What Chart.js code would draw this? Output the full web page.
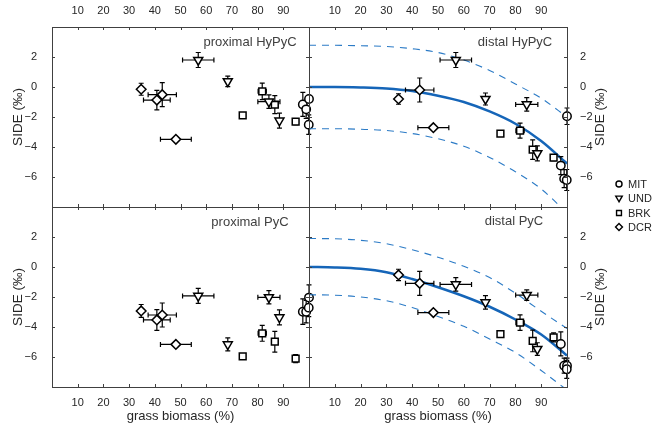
<!DOCTYPE html>
<html>
<head>
<meta charset="utf-8">
<script src="https://cdn.jsdelivr.net/npm/chart.js@4.4.1/dist/chart.umd.min.js"></script>
<style>
html, body { margin: 0; padding: 0; background: #fff; overflow: hidden; }
#wrap { position: relative; width: 653px; height: 423px; }
#wrap canvas { position: absolute; left: 0; top: 0; }
</style>
</head>
<body>
<div id="wrap">
  <canvas id="proxHy" width="653" height="423"></canvas>
  <canvas id="distHy" width="653" height="423"></canvas>
  <canvas id="proxPy" width="653" height="423"></canvas>
  <canvas id="distPy" width="653" height="423"></canvas>
</div>
<script>
// grass biomass (%) per site, with horizontal error
const mitX = [97.6, 98.9, 100, 99.9]
const undX = [56.9, 68.4, 84.4, 88.5]
const brkX = [74.2, 81.8, 86.7, 94.8]
const dcrX = [34.7, 40.8, 42.9, 48.2]
const mitXErr = [0, 0, 0, 0]
const undXErr = [6.1, 0, 4.3, 0]
const brkXErr = [0, 1.6, 0, 0]
const dcrXErr = [0.8, 5.2, 5.5, 6.0]

// SIDE (permil) - proximal HyPyC
const mitProxHy = [-1.16, -1.49, -0.8, -2.51]
const undProxHy = [1.8, 0.38, -0.98, -2.24]
const brkProxHy = [-1.89, -0.29, -1.18, -2.31]
const dcrProxHy = [-0.15, -0.87, -0.51, -3.49]
const mitProxHyErr = [0.8, 0.6, 0.2, 0.65]
const undProxHyErr = [0.5, 0.35, 0.45, 0.5]
const brkProxHyErr = [0.1, 0.55, 0.6, 0.2]
const dcrProxHyErr = [0.4, 0.65, 0.8, 0.1]

// distal HyPyC
const mitDistHy = [-5.24, -6.11, -1.95, -6.2]
const undDistHy = [1.8, -0.8, -1.16, -4.42]
const brkDistHy = [-3.11, -2.91, -4.18, -4.71]
const dcrDistHy = [-0.8, null, -0.2, -2.71]
const mitDistHyErr = [0.6, 0.6, 0.55, 0.7]
const undDistHyErr = [0.5, 0.4, 0.45, 0.5]
const brkDistHyErr = [0.1, 0.5, 0.65, 0.2]
const dcrDistHyErr = [0.35, 0, 0.8, 0.1]

// proximal PyC
const mitProxPy = [-2.98, -2.98, -2.04, -2.71]
const undProxPy = [-1.93, -5.16, -2.02, -3.36]
const brkProxPy = [-5.96, -4.42, -4.98, -6.11]
const dcrProxPy = [-2.93, -3.53, -3.2, -5.16]
const mitProxPyErr = [0.85, 0.75, 0.85, 0.6]
const undProxPyErr = [0.5, 0.43, 0.44, 0.5]
const brkProxPyErr = [0.1, 0.53, 0.69, 0.27]
const dcrProxPyErr = [0.43, 0.69, 0.8, 0.1]

// distal PyC
const mitDistPy = [-5.13, -6.58, -6.58, -6.82]
const undDistPy = [-1.16, -2.36, -1.87, -5.47]
const brkDistPy = [-4.47, -3.71, -4.93, -4.69]
const dcrDistPy = [-0.53, null, -1.09, -3.04]
const mitDistPyErr = [0.8, 0.5, 0.5, 0.6]
const undDistPyErr = [0.45, 0.45, 0.35, 0.42]
const brkDistPyErr = [0.1, 0.52, 0.72, 0.3]
const dcrDistPyErr = [0.38, 0, 0.8, 0.1]

// fitted curves
const fitX = [0, 10, 20, 30, 40, 50, 60, 70, 80, 90, 100]
const hyFit = [0, 0, -0.03, -0.1, -0.27, -0.58, -1.0, -1.63, -2.45, -3.6, -5.1]
const hyUpper = [2.78, 2.78, 2.75, 2.7, 2.55, 2.3, 1.8, 1.1, 0.2, -0.75, -2.0]
const hyLower = [-2.78, -2.78, -2.82, -2.9, -3.1, -3.45, -3.95, -4.7, -5.65, -6.8, -8.4]
const pyFit = [0, -0.03, -0.12, -0.35, -0.8, -1.35, -1.95, -2.65, -3.5, -4.5, -5.9]
const pyUpper = [1.9, 1.88, 1.78, 1.55, 1.15, 0.65, 0.05, -0.7, -1.75, -2.95, -4.1]
const pyLower = [-1.85, -1.88, -2.0, -2.25, -2.7, -3.3, -3.95, -4.8, -5.7, -6.9, -8.2]

const xTicks = [0, 10, 20, 30, 40, 50, 60, 70, 80, 90, 100]
const yTicks = [-8, -6, -4, -2, 0, 2, 4]
const sites = ['MIT', 'UND', 'BRK', 'DCR']

Chart.defaults.font.family = "'Liberation Sans', Arial, Helvetica, sans-serif"
Chart.defaults.color = '#262626'
Chart.defaults.animation = false

const markers = {
    MIT: {pointStyle: 'circle', radius: 4.2, rotation: 0},
    UND: {pointStyle: 'triangle', radius: 5.2, rotation: 180},
    BRK: {pointStyle: 'rect', radius: 4.8, rotation: 0},
    DCR: {pointStyle: 'rectRot', radius: 4.8, rotation: 0}
}

function siteSet(name, xs, xe, ys, ye){
    const data = []
    xs.forEach((x, i) => {
        if (ys[i] == null) return
        data.push({x: x, y: ys[i], xe: xe[i], ye: ye[i]})
    })
    const m = markers[name]
    return {
        label: name, data: data, errorBars: true, order: 0, clip: false,
        pointStyle: m.pointStyle, pointRadius: m.radius, pointRotation: m.rotation,
        backgroundColor: '#fff', borderColor: '#000', pointBorderWidth: 1.5
    }
}

function curveSet(ys, dashed){
    return {
        label: '', data: fitX.map((x, i) => ({x: x, y: ys[i]})), showLine: true,
        pointRadius: 0, order: 1, borderColor: dashed ? '#2c7bc6' : '#1565b8',
        borderWidth: dashed ? 1.1 : 2.5, borderDash: dashed ? [7, 6] : [],
        cubicInterpolationMode: 'monotone', fill: false
    }
}

const errorBars = {
    id: 'errorBars',
    beforeDatasetDraw(chart, args){
        const ds = chart.data.datasets[args.index]
        if (!ds.errorBars) return
        const ctx = chart.ctx, sx = chart.scales.x, sy = chart.scales.y
        ctx.save()
        ctx.strokeStyle = '#000'
        ctx.lineWidth = 1.2
        ds.data.forEach(p => {
            const px = sx.getPixelForValue(p.x), py = sy.getPixelForValue(p.y)
            ctx.beginPath()
            if (p.ye){
                const y1 = sy.getPixelForValue(p.y + p.ye), y2 = sy.getPixelForValue(p.y - p.ye)
                ctx.moveTo(px, y1); ctx.lineTo(px, y2)
                ctx.moveTo(px - 2.5, y1); ctx.lineTo(px + 2.5, y1)
                ctx.moveTo(px - 2.5, y2); ctx.lineTo(px + 2.5, y2)
            }
            if (p.xe){
                const x1 = sx.getPixelForValue(p.x - p.xe), x2 = sx.getPixelForValue(p.x + p.xe)
                ctx.moveTo(x1, py); ctx.lineTo(x2, py)
                ctx.moveTo(x1, py - 2.5); ctx.lineTo(x1, py + 2.5)
                ctx.moveTo(x2, py - 2.5); ctx.lineTo(x2, py + 2.5)
            }
            ctx.stroke()
        })
        ctx.restore()
    }
}

// frame, inward ticks, panel label, right title, legend
const panelDeco = {
    id: 'panelDeco',
    afterDraw(chart, args, opts){
        const ctx = chart.ctx, a = chart.chartArea, sx = chart.scales.x, sy = chart.scales.y
        ctx.save()
        ctx.strokeStyle = '#404040'
        ctx.lineWidth = 1
        ctx.strokeRect(Math.round(a.left) + 0.5, Math.round(a.top) + 0.5, Math.round(a.right - a.left), Math.round(a.bottom - a.top))
        ctx.beginPath()
        xTicks.forEach(v => {
            const px = Math.round(sx.getPixelForValue(v)) + 0.5
            ctx.moveTo(px, a.top); ctx.lineTo(px, a.top + 3)
            ctx.moveTo(px, a.bottom); ctx.lineTo(px, a.bottom - 3)
        })
        yTicks.forEach(v => {
            const py = Math.round(sy.getPixelForValue(v)) + 0.5
            ctx.moveTo(a.left, py); ctx.lineTo(a.left + 3, py)
            ctx.moveTo(a.right, py); ctx.lineTo(a.right - 3, py)
        })
        ctx.stroke()

        ctx.fillStyle = '#404040'
        ctx.font = "13px 'Liberation Sans', Arial, sans-serif"
        ctx.textAlign = 'center'
        ctx.textBaseline = 'middle'
        ctx.fillText(opts.label, opts.labelX, opts.labelY)

        if (opts.rightTitle){
            ctx.fillStyle = '#262626'
            ctx.font = "13.5px 'Liberation Sans', Arial, sans-serif"
            ctx.translate(600, (a.top + a.bottom) / 2)
            ctx.rotate(-Math.PI / 2)
            ctx.fillText('SIDE (‰)', 0, 0)
            ctx.setTransform(1, 0, 0, 1, 0, 0)
        }

        if (opts.legend){
            const ly = [184, 198, 213, 227]
            ctx.font = "11px 'Liberation Sans', Arial, sans-serif"
            ctx.textAlign = 'left'
            sites.forEach((s, i) => {
                const m = markers[s]
                ctx.fillStyle = '#fff'
                ctx.strokeStyle = '#000'
                ctx.lineWidth = 1.4
                Chart.helpers.drawPoint(ctx, {pointStyle: m.pointStyle, rotation: m.rotation, radius: m.radius * 0.72, borderWidth: 1.4}, 619, ly[i])
                ctx.fillStyle = '#262626'
                ctx.fillText(s, 628, ly[i] + 0.5)
            })
        }
        ctx.restore()
    }
}

function makePanel(id, top, left, ys, yes, fit, upper, lower, deco){
    const datasets = [
        siteSet('MIT', mitX, mitXErr, ys[0], yes[0]),
        siteSet('UND', undX, undXErr, ys[1], yes[1]),
        siteSet('BRK', brkX, brkXErr, ys[2], yes[2]),
        siteSet('DCR', dcrX, dcrXErr, ys[3], yes[3])
    ]
    if (fit){
        datasets.push(curveSet(fit, false), curveSet(upper, true), curveSet(lower, true))
    }
    const pad = {
        left: left ? 0 : 309,
        right: left ? 344 : 26,
        top: top ? 0 : 207,
        bottom: top ? 216 : 0
    }
    return new Chart(document.getElementById(id), {
        type: 'scatter',
        data: {datasets: datasets},
        plugins: [errorBars, panelDeco],
        options: {
            responsive: false,
            layout: {padding: pad, autoPadding: false},
            plugins: {legend: {display: false}, tooltip: {enabled: false}, panelDeco: deco},
            scales: {
                x: {
                    type: 'linear', position: top ? 'top' : 'bottom', min: 0, max: 100,
                    grid: {display: false}, border: {display: false},
                    ticks: {stepSize: 10, autoSkip: false, maxRotation: 0, padding: 1, font: {size: 11},
                        callback: v => (v === 0 || v === 100) ? '' : String(v)},
                    title: {display: !top, text: 'grass biomass (%)', font: {size: 13, lineHeight: 1}, padding: 0},
                    afterFit: s => { s.height = top ? 27 : 36 }
                },
                y: {
                    type: 'linear', position: left ? 'left' : 'right', min: -8, max: 4,
                    grid: {display: false}, border: {display: false},
                    ticks: {stepSize: 2, autoSkip: false, padding: left ? 7 : 5, font: {size: 11},
                        callback: v => (v === 4 || v === -8) ? '' : (v < 0 ? '\u2212' + Math.abs(v) : String(v))},
                    title: {display: left, text: 'SIDE (‰)', font: {size: 13.5}, padding: {top: 10, bottom: 0}},
                    afterFit: s => { s.width = left ? 52 : 60 }
                }
            }
        }
    })
}

makePanel('proxHy', true, true,
    [mitProxHy, undProxHy, brkProxHy, dcrProxHy],
    [mitProxHyErr, undProxHyErr, brkProxHyErr, dcrProxHyErr],
    null, null, null, {label: 'proximal HyPyC', labelX: 250, labelY: 42})
makePanel('distHy', true, false,
    [mitDistHy, undDistHy, brkDistHy, dcrDistHy],
    [mitDistHyErr, undDistHyErr, brkDistHyErr, dcrDistHyErr],
    hyFit, hyUpper, hyLower, {label: 'distal HyPyC', labelX: 515, labelY: 42, rightTitle: true, legend: true})
makePanel('proxPy', false, true,
    [mitProxPy, undProxPy, brkProxPy, dcrProxPy],
    [mitProxPyErr, undProxPyErr, brkProxPyErr, dcrProxPyErr],
    null, null, null, {label: 'proximal PyC', labelX: 250, labelY: 222})
makePanel('distPy', false, false,
    [mitDistPy, undDistPy, brkDistPy, dcrDistPy],
    [mitDistPyErr, undDistPyErr, brkDistPyErr, dcrDistPyErr],
    pyFit, pyUpper, pyLower, {label: 'distal PyC', labelX: 514, labelY: 221, rightTitle: true})
</script>
</body>
</html>
